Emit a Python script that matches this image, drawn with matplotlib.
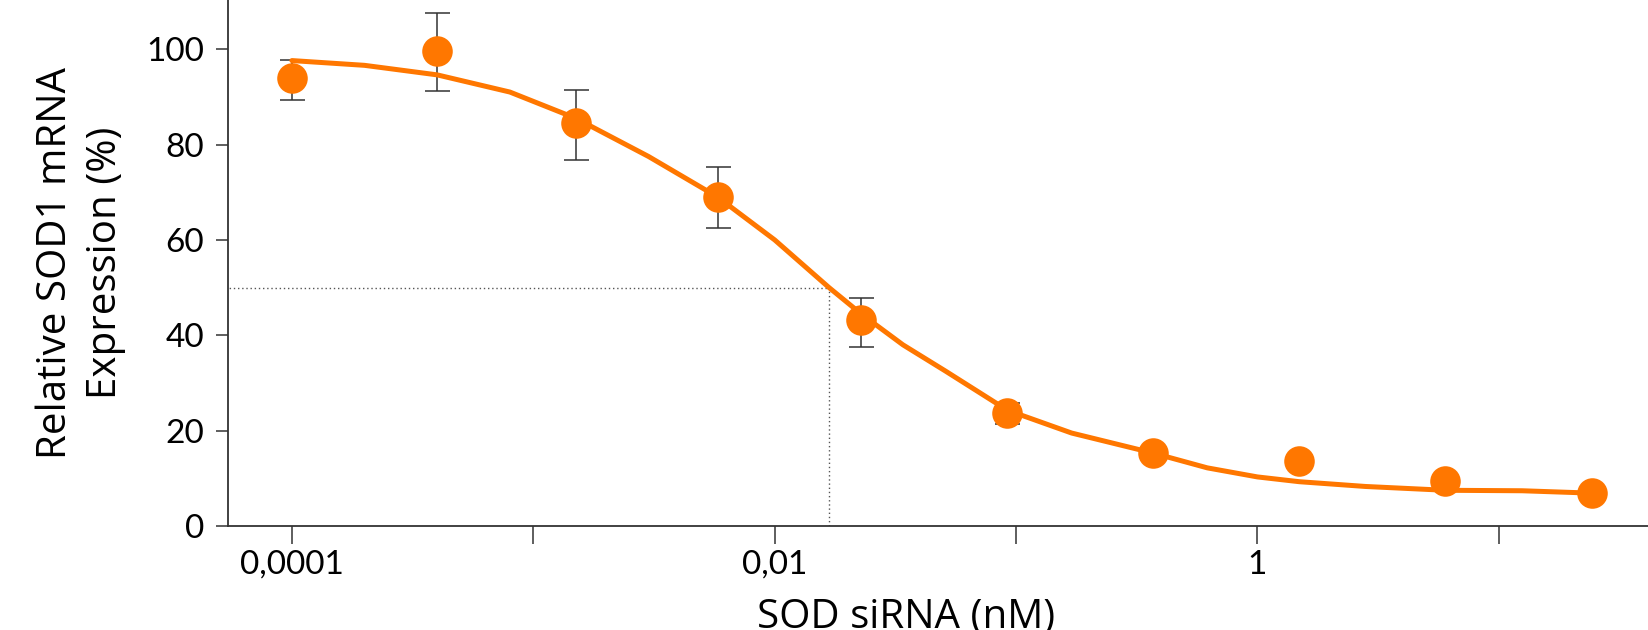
import numpy as np
import matplotlib.pyplot as plt
from matplotlib.ticker import FixedLocator, FixedFormatter, NullLocator

plt.rcParams['font.family'] = ['Lato', 'DejaVu Sans']

# measured points (nM, % expression, error)
conc = [0.0001, 0.0004, 0.0015, 0.0058, 0.0228, 0.092, 0.37, 1.49, 6.0, 24.3]
expr = [94.0, 99.7, 84.5, 69.0, 43.1, 23.8, 15.4, 13.7, 9.5, 6.9]
err_lo = [4.6, 8.5, 7.7, 6.6, 5.5, 2.3, 0.8, 1.4, 0.9, 0.9]
err_hi = [3.8, 7.8, 6.9, 6.2, 4.7, 1.9, 0.8, 1.4, 0.9, 0.9]

# fitted curve
fit_x = [0.0001, 0.0002, 0.0004, 0.0008, 0.0015, 0.003, 0.0058, 0.01,
         0.0168, 0.0228, 0.034, 0.051, 0.092, 0.17, 0.37, 0.62, 1.0,
         1.49, 2.8, 6.0, 12.5, 24.3]
fit_y = [97.6, 96.6, 94.6, 91.0, 85.5, 77.5, 69.0, 60.0,
         50.0, 44.5, 38.0, 32.5, 24.3, 19.5, 15.3, 12.2, 10.3,
         9.3, 8.3, 7.5, 7.4, 6.9]

ic50 = 0.0168

tick_vals = [0.0001, 0.001, 0.01, 0.1, 1, 10]
tick_labels = ["0,0001", "", "0,01", "", "1", ""]

orange = "#FF7700"
dark = "#333333"

fig = plt.figure(figsize=(16.48, 6.3), dpi=100)
ax = fig.add_axes([0.1383, 0.165, 0.8617, 0.835])

ax.plot(fit_x, fit_y, color=orange, lw=3.6, zorder=2, solid_capstyle="round")
ax.errorbar(conc, expr, yerr=[err_lo, err_hi], fmt="none", ecolor=dark,
            elinewidth=1.1, capsize=9, capthick=1.1, zorder=1)
ax.plot(conc, expr, "o", color=orange, ms=22, mec="none", zorder=3)

ax.plot([1e-5, ic50], [50, 50], color="#555555", lw=1, ls=(0, (1, 2)), zorder=1)
ax.plot([ic50, ic50], [0, 50], color="#555555", lw=1, ls=(0, (1, 2)), zorder=1)

ax.set_xscale("log")
ax.set_xlim(10 ** -4.265, 10 ** 1.618)
ax.set_ylim(0, 110.3)

ax.xaxis.set_major_locator(FixedLocator(tick_vals))
ax.xaxis.set_major_formatter(FixedFormatter(tick_labels))
ax.xaxis.set_minor_locator(NullLocator())
ax.set_yticks([0, 20, 40, 60, 80, 100])

for s in ["top", "right"]:
    ax.spines[s].set_visible(False)
for s in ["left", "bottom"]:
    ax.spines[s].set_color(dark)
    ax.spines[s].set_linewidth(1.3)

ax.tick_params(axis="x", direction="out", length=13, width=1.1, color=dark,
               labelsize=24, pad=4, labelcolor="black")
ax.tick_params(axis="y", direction="out", length=9, width=1.1, color=dark,
               labelsize=24, pad=8, labelcolor="black")

ax.set_xlabel("SOD siRNA (nM)", fontsize=29, family=["Open Sans", "DejaVu Sans"])
ax.xaxis.set_label_coords(0.4775, -0.135)
ax.set_ylabel("Relative SOD1 mRNA\nExpression (%)", fontsize=29,
              family=["Open Sans", "DejaVu Sans"], linespacing=1.3)
ax.yaxis.set_label_coords(-0.072, 0.5)

fig.savefig("out.png", dpi=100)
